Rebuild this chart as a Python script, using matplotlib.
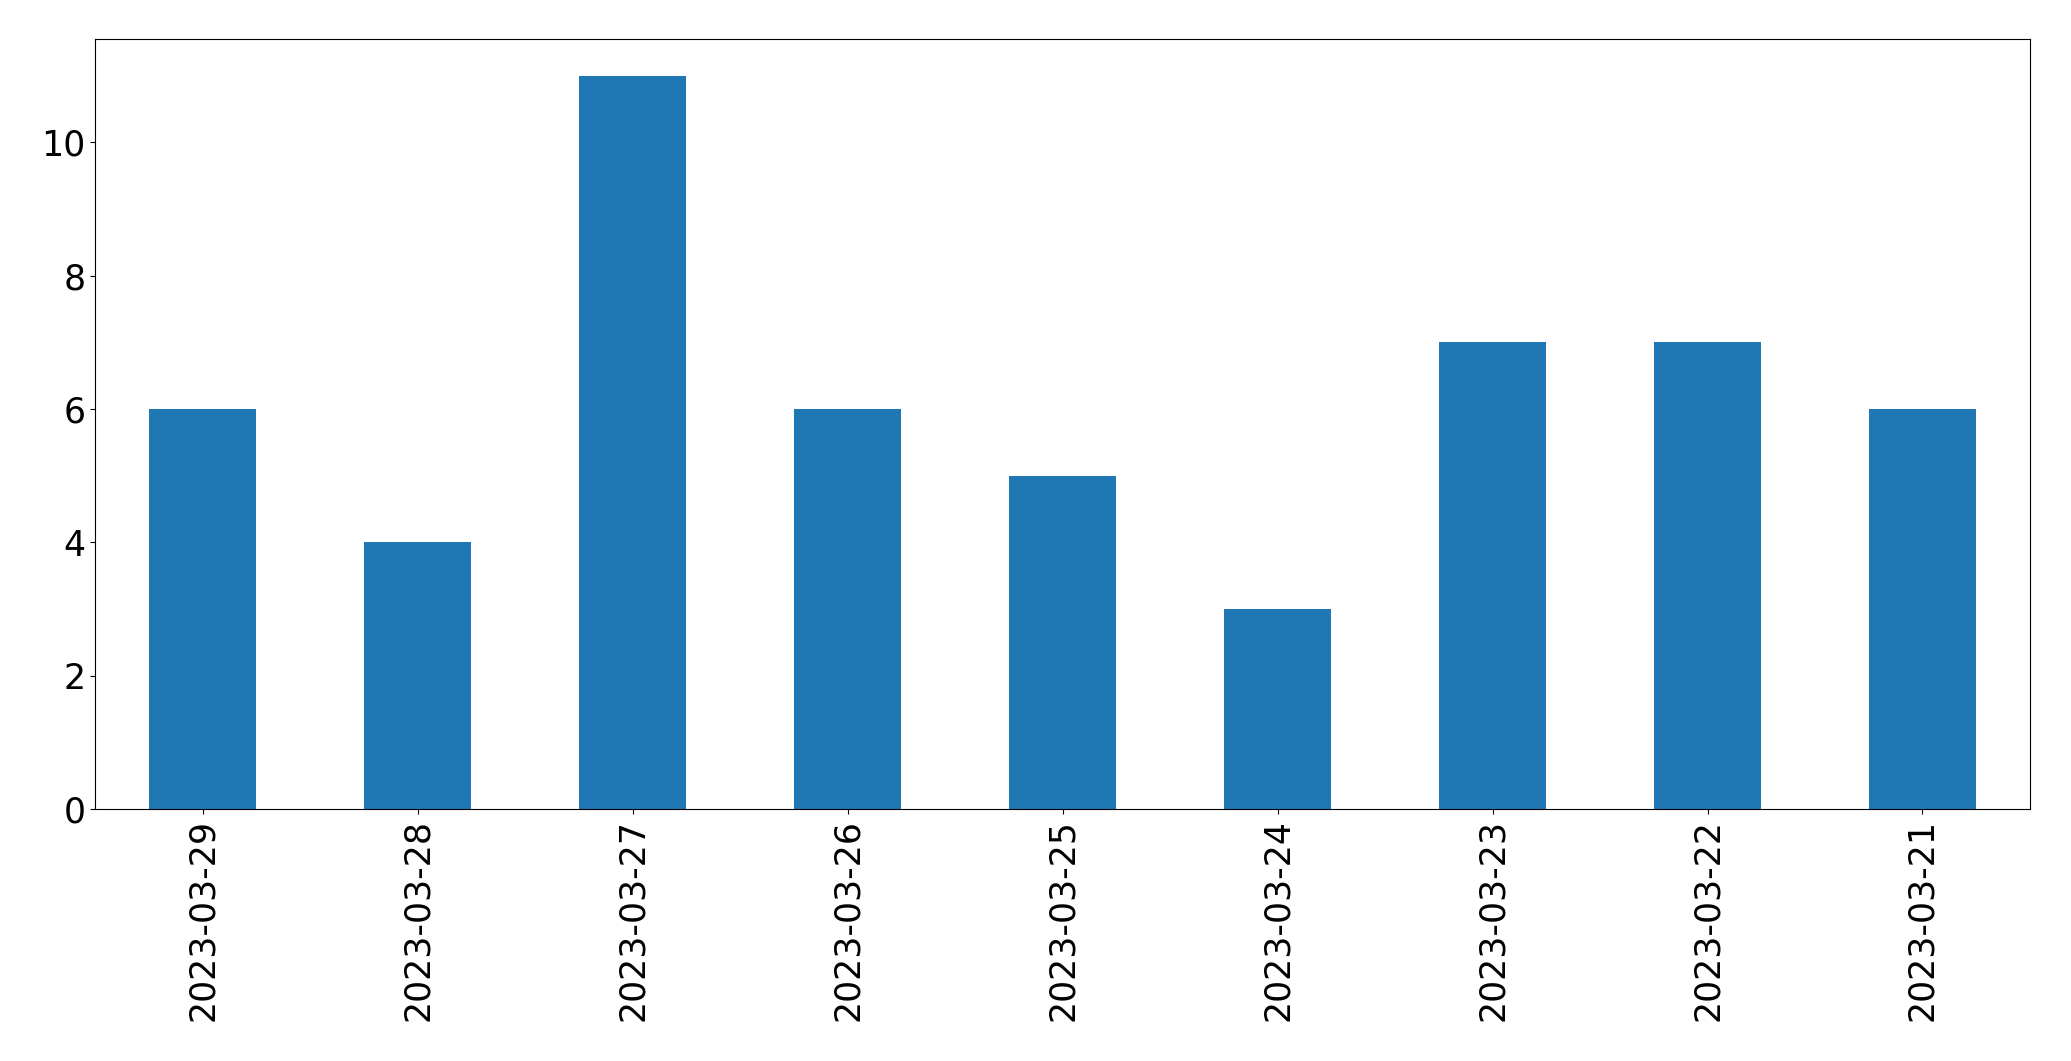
import pandas as pd
import numpy as np
from matplotlib import pyplot as plt


dates = ["2023-03-29", "2023-03-28", "2023-03-27", "2023-03-26", "2023-03-25",
         "2023-03-24", "2023-03-23", "2023-03-22", "2023-03-21"]
counts = [6, 4, 11, 6, 5, 3, 7, 7, 6]


def main():
    s = pd.Series(counts, index=dates)

    fig = plt.figure(figsize=(20.71, 10.61), dpi=100)
    ax = fig.add_axes([0.0459, 0.2375, 0.9343, 0.7257])
    s.plot(kind="bar", ax=ax, color="#1f77b4")
    ax.tick_params(axis="both", labelsize=25)
    ax.set_xlabel("")

    fig.savefig("out.png", dpi=100)


if __name__ == '__main__':
    main()
